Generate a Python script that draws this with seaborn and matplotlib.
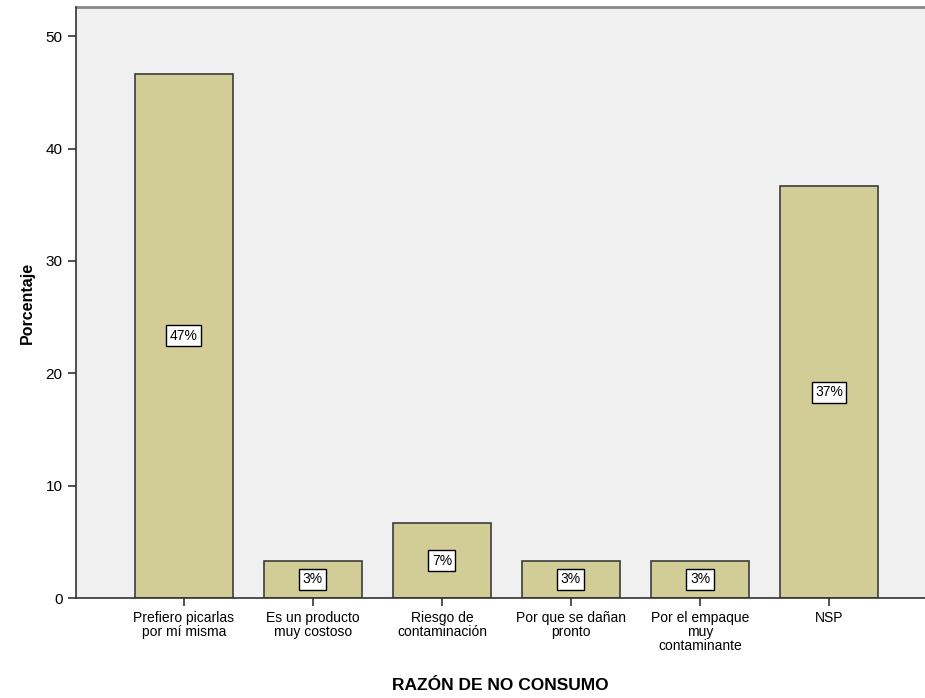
import matplotlib
matplotlib.use("Agg")
import matplotlib.pyplot as plt
import seaborn as sns
import pandas as pd

# data (n = 30)
categories = [
    "Prefiero picarlas\npor mí misma",
    "Es un producto\nmuy costoso",
    "Riesgo de\ncontaminación",
    "Por que se dañan\npronto",
    "Por el empaque\nmuy\ncontaminante",
    "NSP",
]
porcentaje = [46.67, 3.33, 6.67, 3.33, 3.33, 36.67]
etiquetas = ["47%", "3%", "7%", "3%", "3%", "37%"]

df = pd.DataFrame({"razon": categories, "pct": porcentaje})

sns.set_style("white")
plt.rcParams["font.family"] = ["Liberation Sans", "DejaVu Sans"]
plt.rcParams["text.color"] = "black"
plt.rcParams["axes.labelcolor"] = "black"
plt.rcParams["xtick.color"] = "black"
plt.rcParams["ytick.color"] = "black"

fig = plt.figure(figsize=(9.25, 6.98), dpi=100)
ax = fig.add_axes([0.082, 0.143, 0.918, 0.847])
ax.set_facecolor("#F0F0F0")

sns.barplot(data=df, x="razon", y="pct", color="#D2CC96", saturation=1,
            width=0.76, edgecolor="#3C3C3C", linewidth=1.2, ax=ax)

ax.bar_label(ax.containers[0], labels=etiquetas, label_type="center",
             fontsize=10, color="black",
             bbox=dict(facecolor="white", edgecolor="black", linewidth=1, pad=2.5))

ax.set_xlim(-0.837, 5.744)
ax.set_ylim(0, 52.6)
ax.set_yticks([0, 10, 20, 30, 40, 50])

for side in ["top", "right"]:
    ax.spines[side].set_visible(False)
ax.spines["left"].set_color("#333333")
ax.spines["bottom"].set_color("#333333")
ax.spines["left"].set_linewidth(1.2)
ax.spines["bottom"].set_linewidth(1.2)
ax.axhline(52.6, color="#888888", linewidth=2, clip_on=False)

ax.tick_params(axis="both", which="major", length=6, width=1.2, color="#333333",
               labelsize=10, labelcolor="black", left=True, bottom=True)
ax.tick_params(axis="y", labelsize=11)
for lab in ax.get_xticklabels():
    lab.set_linespacing(1.0)

ax.set_xlabel("RAZÓN DE NO CONSUMO", fontsize=12.5, fontweight="bold", labelpad=18)
ax.set_ylabel("Porcentaje", fontsize=11.5, fontweight="bold", labelpad=8)

fig.savefig("out.png", dpi=100)
